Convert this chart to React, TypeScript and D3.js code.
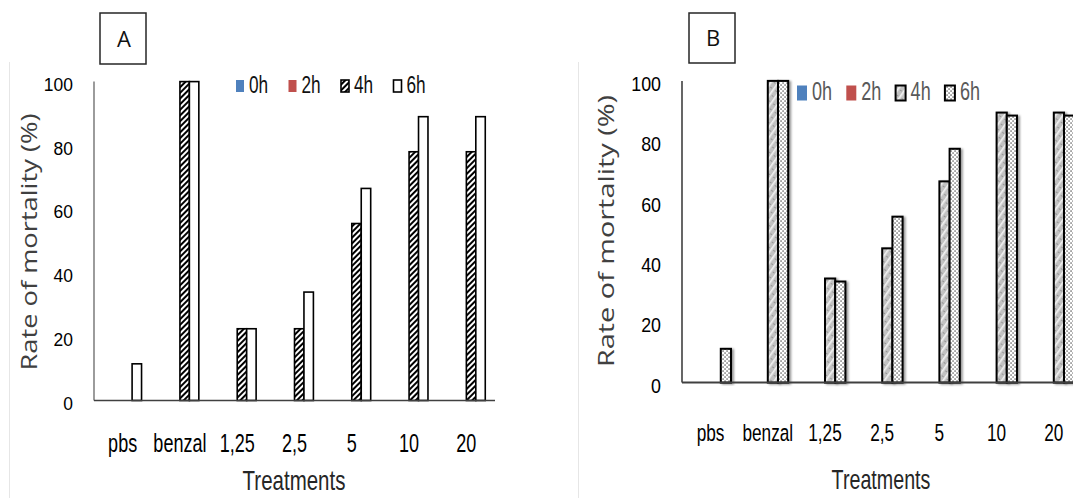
import React from 'react';
import * as d3 from 'd3';

// treatments on the x axis
const categories = ['pbs', 'benzal', '1,25', '2,5', '5', '10', '20'];
const seriesNames = ['0h', '2h', '4h', '6h'];
const yTicks = [0, 20, 40, 60, 80, 100];

// panel A, mortality (%) per exposure time
const a0h = [0, 0, 0, 0, 0, 0, 0];
const a2h = [0, 0, 0, 0, 0, 0, 0];
const a4h = [0, 100, 22.5, 22.5, 55.5, 78, 78];
const a6h = [11.5, 100, 22.5, 34, 66.5, 89, 89];

// panel B
const b0h = [0, 0, 0, 0, 0, 0, 0];
const b2h = [0, 0, 0, 0, 0, 0, 0];
const b4h = [0, 100, 34.5, 44.5, 66.7, 89.5, 89.5];
const b6h = [11.2, 100, 33.5, 55, 77.5, 88.5, 88.5];

const W = 1073;
const H = 498;
const arial = '"Liberation Sans", Arial, sans-serif';
const sans = '"Open Sans", "Noto Sans", sans-serif';

// condensed text: regular sans squeezed horizontally (and a bit taller)
function NText(props: {
  x: number; y: number; size: number; sx?: number; sy?: number; anchor?: string; baseline?: string;
  fill?: string; children: React.ReactNode;
}) {
  const { x, y, size, sx = 0.82, sy = 1, anchor = 'start', baseline, fill = '#000', children } = props;
  return (
    <text transform={`translate(${x},${y}) scale(${sx},${sy})`} textAnchor={anchor}
      dominantBaseline={baseline} fontFamily={arial} fontSize={size} fill={fill}>{children}</text>
  );
}

type PanelProps = {
  id: string;
  letter: string;
  values: number[][];
  x0: number;
  x1: number;
  y0: number;
  y100: number;
  pad: number;
  fills: string[];
  barStroke: number;
  shadow: boolean;
  box: { x: number; y: number; w: number; h: number };
  tickRight: number;
  tickSize: number;
  tickSx: number;
  catBaseline: number;
  catSize: number;
  xTitle: { x: number; y: number; size: number };
  yTitle: { x: number; y: number; len: number };
  legend: { x: number; y: number; step: number; w: number; h: number; size: number; color: string };
  frameX: number;
  xAxisWidth: number;
  xAxisColor: string;
  yAxisColor: string;
};

function Panel(p: PanelProps) {
  const x = d3.scaleBand<string>().domain(categories).range([p.x0, p.x1])
    .paddingInner(p.pad).paddingOuter(p.pad / 2);
  const xs = d3.scaleBand<string>().domain(seriesNames).range([0, x.bandwidth()]);
  const y = d3.scaleLinear().domain([0, 100]).range([p.y0, p.y100]);

  return (
    <g>
      {/* faint chart-area edge */}
      <line x1={p.frameX} x2={p.frameX} y1={62} y2={H} stroke="#e6e6e6" strokeWidth={1} />

      {/* panel letter box */}
      <rect x={p.box.x} y={p.box.y} width={p.box.w} height={p.box.h} fill="#fff" stroke="#262626" strokeWidth={1.5} />
      <text x={p.box.x + p.box.w / 2 + 1} y={p.box.y + p.box.h / 2 + 8} textAnchor="middle"
        fontFamily={sans} fontSize={22} fill="#111">{p.letter}</text>

      {/* bars */}
      {p.values.map((vals, si) =>
        vals.map((v, ci) => {
          if (v <= 0) return null;
          const bx = (x(categories[ci]) as number) + (xs(seriesNames[si]) as number);
          return (
            <rect key={`${si}-${ci}`} x={bx} y={y(v)} width={xs.bandwidth()} height={y(0) - y(v)}
              fill={p.fills[si]} stroke="#000" strokeWidth={p.barStroke}
              filter={p.shadow ? `url(#shadow${p.id})` : undefined} />
          );
        })
      )}

      {/* axes */}
      <line x1={p.x0} x2={p.x0} y1={y(100)} y2={y(0)} stroke={p.yAxisColor} strokeWidth={1.2} />
      <line x1={p.x0} x2={p.x1} y1={y(0)} y2={y(0)} stroke={p.xAxisColor} strokeWidth={p.xAxisWidth} />

      {yTicks.map(t => (
        <NText key={t} x={p.tickRight} y={y(t) + 2.5} anchor="end" baseline="central"
          size={p.tickSize} sx={p.tickSx}>{t}</NText>
      ))}

      {categories.map(c => (
        <NText key={c} x={(x(c) as number) + x.bandwidth() / 2} y={p.catBaseline} anchor="middle"
          size={p.catSize} sy={1.18}>{c}</NText>
      ))}

      <NText x={p.xTitle.x} y={p.xTitle.y} anchor="middle" size={p.xTitle.size} sy={1.12}
        fill="#262626">Treatments</NText>

      <text transform={`translate(${p.yTitle.x},${p.yTitle.y}) rotate(-90)`} textAnchor="middle"
        dominantBaseline="central" fontFamily={sans} fontSize={21} fill="#404040"
        textLength={p.yTitle.len} lengthAdjust="spacingAndGlyphs">Rate of mortality (%)</text>

      {/* legend */}
      {seriesNames.map((s, i) => {
        const lx = p.legend.x + i * p.legend.step;
        const patterned = i >= 2;
        return (
          <g key={s}>
            <rect x={lx} y={p.legend.y - p.legend.h / 2} width={p.legend.w} height={p.legend.h}
              fill={p.fills[i]} stroke={patterned ? '#000' : 'none'} strokeWidth={patterned ? p.barStroke : 0} />
            <NText x={lx + p.legend.w + 5} y={p.legend.y + 7} sy={1.15}
              size={p.legend.size} fill={p.legend.color}>{s}</NText>
          </g>
        );
      })}
    </g>
  );
}

export default function App() {
  return (
    <svg width={W} height={H} style={{ position: 'absolute', left: 0, top: 0, background: '#fff' }}>
      <defs>
        <pattern id="diagA" patternUnits="userSpaceOnUse" width={4} height={4} patternTransform="rotate(45)">
          <rect width={4} height={4} fill="#fff" />
          <rect width={2} height={4} fill="#000" />
        </pattern>
        <pattern id="diagB" patternUnits="userSpaceOnUse" width={6} height={6} patternTransform="rotate(35)">
          <rect width={6} height={6} fill="#c2c2c2" />
          <rect width={1.6} height={6} fill="#f2f2f2" />
          <rect x={3.5} y={1} width={1} height={1} fill="#666" />
        </pattern>
        <pattern id="dotsB" patternUnits="userSpaceOnUse" width={4} height={4}>
          <rect width={4} height={4} fill="#fff" />
          <rect x={0.5} y={0.5} width={1.1} height={1.1} fill="#000" />
          <rect x={2.5} y={2.5} width={1.1} height={1.1} fill="#000" />
        </pattern>
        <filter id="shadowB" x="-50%" y="-10%" width="200%" height="120%">
          <feDropShadow dx={2} dy={1} stdDeviation={1.2} floodColor="#000" floodOpacity={0.4} />
        </filter>
      </defs>

      <Panel id="A" letter="A" values={[a0h, a2h, a4h, a6h]}
        x0={94} x1={495} y0={400.5} y100={81.6} pad={0.34}
        fills={['#4f81bd', '#c0504d', 'url(#diagA)', '#fff']} barStroke={1.6} shadow={false}
        box={{ x: 100, y: 13, w: 46, h: 51 }} tickRight={73} tickSize={19} tickSx={0.92}
        catBaseline={452} catSize={22}
        xTitle={{ x: 294, y: 490, size: 25 }} yTitle={{ x: 29, y: 242, len: 257 }}
        legend={{ x: 236, y: 86, step: 52.5, w: 8, h: 12, size: 21, color: '#111' }}
        frameX={9.5} xAxisWidth={1.6} xAxisColor="#404040" yAxisColor="#595959" />

      <Panel id="B" letter="B" values={[b0h, b2h, b4h, b6h]}
        x0={682} x1={1082.4} y0={382.6} y100={80.9} pad={0.287}
        fills={['#4f81bd', '#c0504d', 'url(#diagB)', 'url(#dotsB)']} barStroke={2} shadow={true}
        box={{ x: 689, y: 13, w: 46, h: 50 }} tickRight={661} tickSize={21} tickSx={0.85}
        catBaseline={441} catSize={21}
        xTitle={{ x: 881, y: 489, size: 24 }} yTitle={{ x: 606, y: 231, len: 272 }}
        legend={{ x: 797, y: 93, step: 49.3, w: 10, h: 15, size: 22, color: '#595959' }}
        frameX={578.5} xAxisWidth={2} xAxisColor="#404040" yAxisColor="#000" />
    </svg>
  );
}
